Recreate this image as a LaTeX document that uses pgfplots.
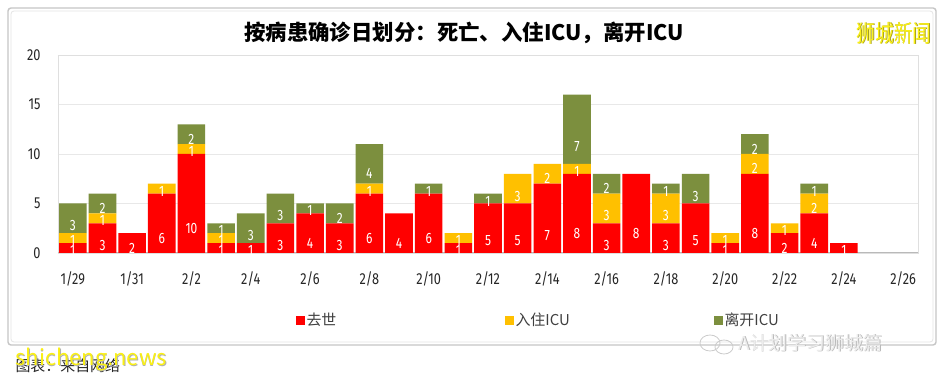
\documentclass[border=0pt]{standalone}
\usepackage{pgfplots}
\usepackage{pgfplotstable}
\pgfplotsset{compat=1.18}
\usepackage{fontspec}
\setmainfont{Noto Sans CJK SC}
\newfontfamily\numfont[FakeStretch=0.8]{Fira Sans}
\newfontfamily\cjkcond[FakeStretch=0.78]{Noto Sans CJK SC}
\definecolor{cRed}{RGB}{255,0,0}
\definecolor{cYel}{RGB}{255,192,0}
\definecolor{cGrn}{RGB}{124,143,62}
\definecolor{wmYel}{RGB}{250,240,20}

\pgfplotstableread{
x death icuin icuout
0 1 1 3
1 3 1 2
2 2 0 0
3 6 1 0
4 10 1 2
5 1 1 1
6 1 0 3
7 3 0 3
8 4 0 1
9 3 0 2
10 6 1 4
11 4 0 0
12 6 0 1
13 1 1 0
14 5 0 1
15 5 3 0
16 7 2 0
17 8 1 7
18 3 3 2
19 8 0 0
20 3 3 1
21 5 0 3
22 1 1 0
23 8 2 2
24 2 1 0
25 4 2 1
26 1 0 0
27 0 0 0
28 0 0 0
}\datatable

\begin{document}
\begin{tikzpicture}
\useasboundingbox (0,0) rectangle (941bp,383bp);
\fill[white] (0,0) rectangle (941bp,383bp);
% chart frame
\draw[gray!45, line width=1.4bp, rounded corners=3bp] (8bp,38bp) rectangle (936bp,375bp);
\draw[gray!20, line width=0.8bp, rounded corners=3bp] (11bp,41bp) rectangle (933bp,372bp);
% title
\node[font=\bfseries\fontsize{21.5}{21.5}\selectfont, anchor=center] at (464bp,350bp) {按病患确诊日划分：死亡、入住ICU，离开ICU};
% watermark top right
\node[font=\cjkcond\fontsize{24}{24}\selectfont, text=olive!80, anchor=east] at (935.7bp,349.3bp) {狮城新闻};
\node[font=\cjkcond\fontsize{24}{24}\selectfont, text=wmYel, anchor=east] at (935bp,350bp) {狮城新闻};

\begin{axis}[
  at={(58bp,130bp)}, anchor=south west,
  scale only axis, width=860bp, height=198bp,
  ybar stacked, bar width=27.6bp,
  xmin=-0.5, xmax=28.5, ymin=0, ymax=20,
  ytick={0,5,10,15,20},
  xtick={0,2,...,28},
  xticklabels={1/29,1/31,2/2,2/4,2/6,2/8,2/10,2/12,2/14,2/16,2/18,2/20,2/22,2/24,2/26},
  major tick length=0pt,
  ymajorgrids, grid style={gray!18, line width=0.7bp},
  axis line style={gray!25, line width=0.8bp},
  /pgf/number format/assume math mode=true,
  ticklabel style={font=\numfont\fontsize{16}{16}\selectfont, text=black!85},
  yticklabel style={xshift=-14bp},
  xticklabel style={yshift=-15bp},
  extra y ticks={0}, extra y tick labels={},
  extra y tick style={grid style={gray!55, line width=1bp}},
  point meta=explicit,
  nodes near coords={\pgfmathfloatifflags{\pgfplotspointmeta}{0}{}{\pgfmathprintnumber{\pgfplotspointmeta}}},
  every node near coord/.append style={anchor=center, text=white, inner sep=0pt,
     font=\numfont\fontsize{15}{15}\selectfont,
     /utils/exec={\pgfmathfloattofixed{\pgfplotspointmeta}\global\let\segval\pgfmathresult},
     yshift=-\segval*2.475bp},
  legend image code/.code={\fill[#1] (0bp,-4.5bp) rectangle (9bp,4.5bp);},
  legend style={at={(rel axis cs:0.276,-0.34)}, anchor=west, draw=none, fill=none,
     inner sep=0pt, font=\fontsize{15}{15}\selectfont, text=black!75,
     /tikz/every even column/.append style={column sep=0bp}},
  legend columns=3,
  clip=false,
]
\addplot[fill=cRed, draw=none] table[x=x, y=death, meta=death] {\datatable};
\addplot[fill=cYel, draw=none] table[x=x, y=icuin, meta=icuin] {\datatable};
\addplot[fill=cGrn, draw=none] table[x=x, y=icuout, meta=icuout] {\datatable};
\legend{\makebox[196bp][l]{去世},\makebox[196bp][l]{入住ICU},\makebox[80bp][l]{离开ICU}}
\end{axis}

% bottom watermarks
\node[font=\fontsize{15}{15}\selectfont, anchor=west, text=black!85] at (12bp,17bp) {图表：来自网络};
\node[font=\fontsize{22}{22}\selectfont, anchor=west, text=gray!60] at (12.8bp,22.3bp) {shicheng.news};
\node[font=\fontsize{22}{22}\selectfont, anchor=west, text=wmYel] at (12bp,23bp) {shicheng.news};
\draw[gray!40, line width=0.8bp] (710bp,40bp) ellipse [x radius=10bp, y radius=8bp];
\draw[gray!40, line width=0.8bp] (724bp,36bp) ellipse [x radius=9bp, y radius=7bp];
\node[font=\fontsize{19}{19}\selectfont, anchor=west, text=gray!55] at (735.6bp,39.4bp) {A计划学习狮城篇};
\node[font=\fontsize{19}{19}\selectfont, anchor=west, text=gray!15] at (735bp,40bp) {A计划学习狮城篇};
\end{tikzpicture}
\end{document}
